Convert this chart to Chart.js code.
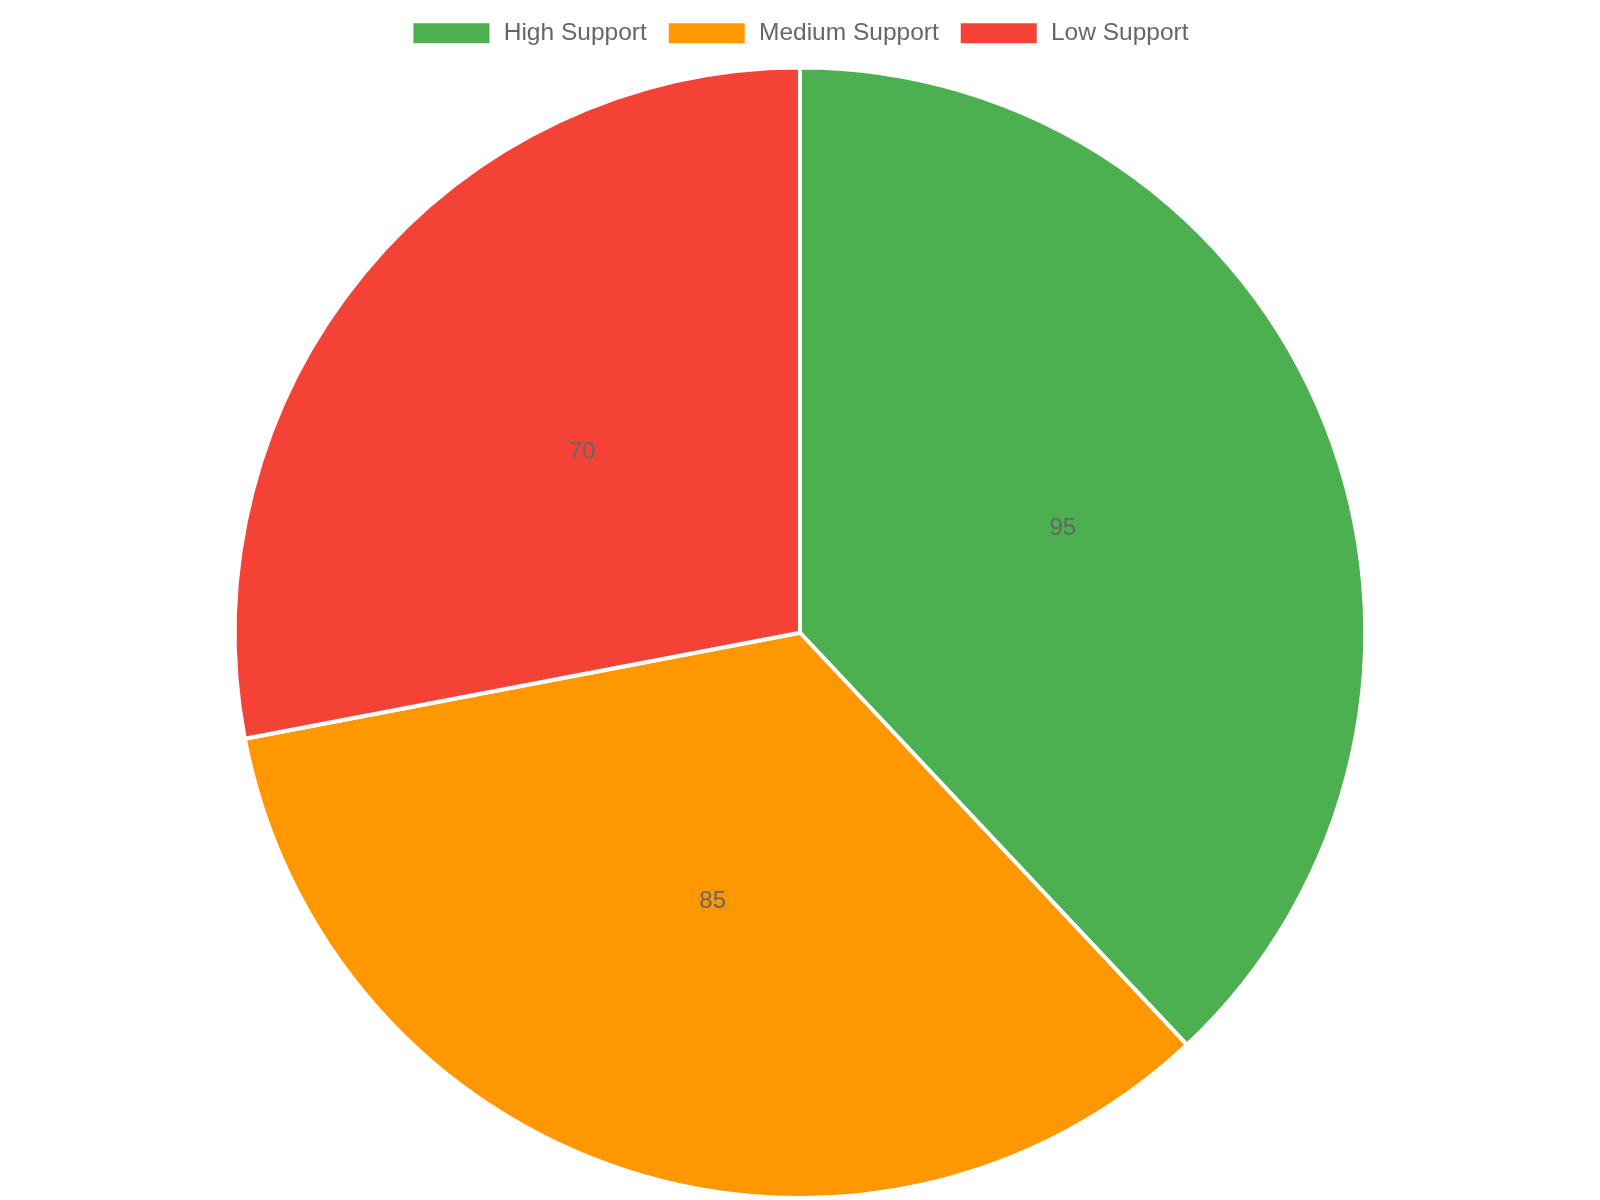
<!DOCTYPE html>
<html>
<head>
<meta charset="utf-8">
<script src="https://cdn.jsdelivr.net/npm/chart.js@4"></script>
<style>
    html, body { margin: 0; padding: 0; background: #fff; }
    #wrap { width: 1600px; height: 1200px; }
</style>
</head>
<body>
<div id="wrap"><canvas id="supportChart" width="1600" height="1200"></canvas></div>
<script>
// Chart data
const categories = ['High Support', 'Medium Support', 'Low Support'];
const supportValues = [95, 85, 70];
const sliceColors = ['#4CAF50', '#FF9800', '#F44336'];

// Draw the value in the middle of each slice
const sliceLabels = {
    id: 'sliceLabels',
    afterDatasetsDraw(chart) {
        const ctx = chart.ctx;
        const meta = chart.getDatasetMeta(0);
        ctx.save();
        ctx.font = '24px "Liberation Sans", Arial, sans-serif';
        ctx.fillStyle = '#666';
        ctx.textAlign = 'center';
        ctx.textBaseline = 'middle';
        meta.data.forEach(function(arc, i) {
            const p = arc.getCenterPoint();
            ctx.fillText(chart.data.datasets[0].data[i], p.x, p.y);
        });
        ctx.restore();
    }
};

// A bit more room under the legend
const legendSpace = {
    id: 'legendSpace',
    beforeInit(chart) {
        const origFit = chart.legend.fit;
        chart.legend.fit = function() {
            origFit.call(this);
            this.height += 10;
        };
    }
};

document.addEventListener('DOMContentLoaded', function() {
    new Chart(document.getElementById('supportChart'), {
        type: 'pie',
        data: {
            labels: categories,
            datasets: [{
                data: supportValues,
                backgroundColor: sliceColors,
                borderColor: '#fff',
                borderWidth: 4,
                hoverOffset: 8
            }]
        },
        options: {
            responsive: false,
            devicePixelRatio: 1,
            animation: false,
            layout: { padding: { top: 1 } },
            plugins: {
                legend: {
                    position: 'top',
                    labels: {
                        boxWidth: 80,
                        boxHeight: 24,
                        padding: 20,
                        color: '#666',
                        font: { size: 24.5, family: '"Liberation Sans", Arial, sans-serif' }
                    }
                },
                tooltip: { enabled: false }
            }
        },
        plugins: [legendSpace, sliceLabels]
    });
});
</script>
</body>
</html>
